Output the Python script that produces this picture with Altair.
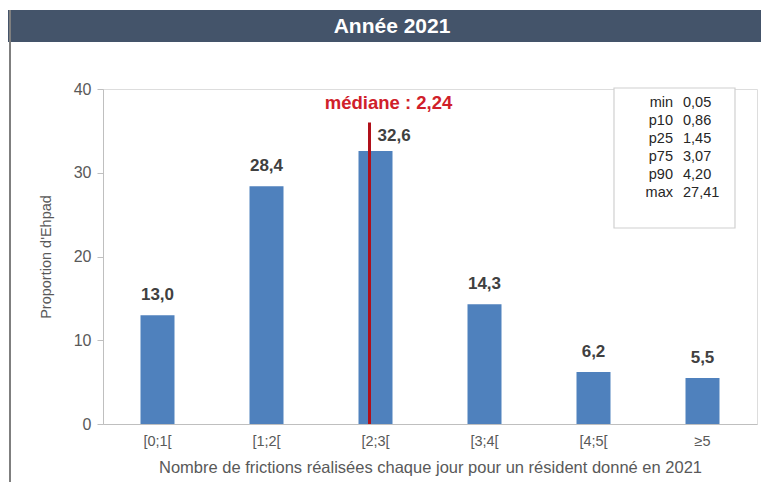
import altair as alt
import pandas as pd

categories = ["[0;1[", "[1;2[", "[2;3[", "[3;4[", "[4;5[", "≥5"]
values = [13.0, 28.4, 32.6, 14.3, 6.2, 5.5]
labels = ["13,0", "28,4", "32,6", "14,3", "6,2", "5,5"]
median_cat = "[2;3["
median_value = 2.24
median_label = "médiane : 2,24"
median_top = 36
stat_names = ["min", "p10", "p25", "p75", "p90", "max"]
stat_values = ["0,05", "0,86", "1,45", "3,07", "4,20", "27,41"]

FONT = "Liberation Sans"
W, H = 654, 335

df = pd.DataFrame({"cat": categories, "val": values, "lab": labels})
df_main = df[df["cat"] != median_cat]
df_med_lab = df[df["cat"] == median_cat]
med = pd.DataFrame({"cat": [median_cat], "top": [median_top], "lab": [median_label], "ly": [38.3]})
stats = pd.DataFrame({"names": ["\n".join(stat_names)], "vals": ["\n".join(stat_values)]})

xenc = alt.X("cat:N", sort=categories,
             scale=alt.Scale(paddingInner=0, paddingOuter=0),
             axis=alt.Axis(title="Nombre de frictions réalisées chaque jour pour un résident donné en 2021",
                           labelAngle=0, ticks=False, domainColor="#bfbfbf",
                           labelFont=FONT, labelFontSize=14.5, labelColor="#595959",
                           labelPadding=10, titleFont=FONT, titleFontSize=16.5,
                           titleFontWeight="normal", titleColor="#595959", titlePadding=12))
yscale = alt.Scale(domain=[0, 40])

base = alt.Chart(df)

bars = base.mark_bar(size=34, color="#4F81BD").encode(
    x=xenc,
    y=alt.Y("val:Q", scale=yscale,
            axis=alt.Axis(title="Proportion d'Ehpad", values=[0, 10, 20, 30, 40], grid=False,
                          domainColor="#bfbfbf", tickColor="#bfbfbf", tickSize=6,
                          labelFont=FONT, labelFontSize=16, labelColor="#595959", labelPadding=6,
                          titleFont=FONT, titleFontSize=14.5, titleFontWeight="normal",
                          titleColor="#595959", titlePadding=20)),
)

val_text = alt.Chart(df_main).mark_text(font=FONT, fontSize=17, fontWeight="bold",
                                        color="#404040", baseline="middle", dy=-20).encode(
    x=alt.X("cat:N", sort=categories), y=alt.Y("val:Q", scale=yscale), text="lab:N")

val_text_med = alt.Chart(df_med_lab).mark_text(font=FONT, fontSize=17, fontWeight="bold",
                                               color="#404040", baseline="middle", align="left",
                                               dx=2, dy=-15).encode(
    x=alt.X("cat:N", sort=categories), y=alt.Y("val:Q", scale=yscale), text="lab:N")

rule = alt.Chart(med).mark_rule(color="#B0101A", strokeWidth=3, xOffset=-6).encode(
    x=alt.X("cat:N", sort=categories), y=alt.Y("top:Q", scale=yscale), y2=alt.datum(0))

med_text = alt.Chart(med).mark_text(font=FONT, fontSize=18.5, fontWeight="bold", color="#D0202A",
                                    baseline="middle", dx=13).encode(
    x=alt.X("cat:N", sort=categories), y=alt.Y("ly:Q", scale=yscale), text="lab:N")

# title bar
title_bar = alt.Chart(stats).mark_rect(color="#44546A").encode(
    x=alt.value(-95), x2=alt.value(W + 30), y=alt.value(-79), y2=alt.value(-47))
title_txt = alt.Chart(stats).mark_text(text="Année 2021", font=FONT, fontSize=21, fontWeight="bold",
                                       color="white", baseline="middle").encode(
    x=alt.value(W / 2 - 38), y=alt.value(-62))
left_border = alt.Chart(stats).mark_rule(color="#7f7f7f", strokeWidth=2).encode(
    x=alt.value(-93), y=alt.value(-79), y2=alt.value(H + 80))

# stats box
box = alt.Chart(stats).mark_rect(fill="white", stroke="#d0d0d0", strokeWidth=1.2).encode(
    x=alt.value(511), x2=alt.value(632), y=alt.value(-1), y2=alt.value(139))
names_txt = alt.Chart(stats).mark_text(font=FONT, fontSize=14.5, color="#262626", align="right",
                                       baseline="middle", lineHeight=18, lineBreak="\n").encode(
    x=alt.value(570), y=alt.value(14), text="names:N")
vals_txt = alt.Chart(stats).mark_text(font=FONT, fontSize=14.5, color="#262626", align="left",
                                      baseline="middle", lineHeight=18, lineBreak="\n").encode(
    x=alt.value(580), y=alt.value(14), text="vals:N")

chart = alt.layer(title_bar, title_txt, left_border, bars, rule, val_text, val_text_med, med_text,
                  box, names_txt, vals_txt).properties(
    width=W, height=H,
    autosize=alt.AutoSizeParams(type="none"),
    padding={"left": 95, "top": 81, "right": 4, "bottom": 58},
).configure_view(stroke=None).configure(background="white")

chart.save("out.html", embed_options={"renderer": "svg", "actions": False})
